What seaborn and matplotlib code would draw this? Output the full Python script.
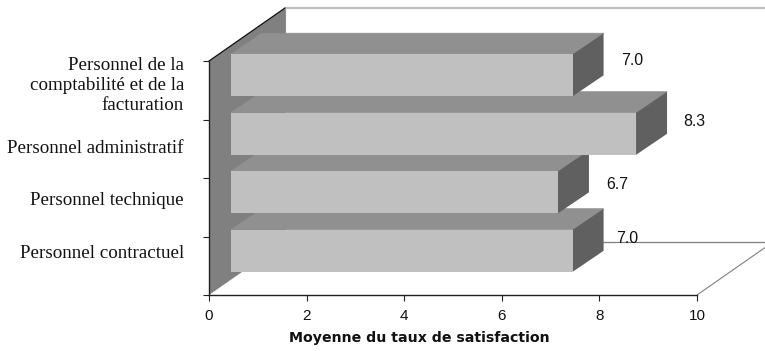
import matplotlib
matplotlib.use("Agg")
import matplotlib.pyplot as plt
import pandas as pd
import seaborn as sns
from matplotlib.patches import Polygon

categories = [
    "Personnel de la\ncomptabilité et de la\nfacturation",
    "Personnel administratif",
    "Personnel technique",
    "Personnel contractuel",
]
scores = [7.0, 8.3, 6.7, 7.0]
x_ticks = [0, 2, 4, 6, 8, 10]

sns.set_theme(style="white")
plt.rcParams["font.family"] = ["Liberation Sans", "DejaVu Sans"]

W, H, DPI = 765, 351, 100
AX_L, AX_R, AX_T, AX_B = 209, 697, 61, 295

fig = plt.figure(figsize=(W / DPI, H / DPI), dpi=DPI, facecolor="white")
ax = fig.add_axes([AX_L / W, 1 - AX_B / H, (AX_R - AX_L) / W, (AX_B - AX_T) / H])

table = pd.DataFrame({"categorie": categories, "score": scores})
sns.barplot(data=table, x="score", y="categorie", orient="h", color="#c0c0c0",
            saturation=1, width=0.72, linewidth=0, ax=ax, zorder=3)
ax.set_xlim(0, 10)
ax.set_ylim(3.5, -0.5)

# Oblique projection, expressed in data units
WALL_DX, WALL_DY = 76 / 48.8, -53 / 58.5
SHIFT_DX, SHIFT_DY = 22 / 48.8, -15 / 58.5
BAR_DX, BAR_DY = 31 / 48.8, -21 / 58.5

# Side wall, back wall edges and floor
faces = dict(clip_on=False, zorder=1)
ax.add_patch(Polygon([(0, 3.5), (0, -0.5), (WALL_DX, -0.5 + WALL_DY), (WALL_DX, 3.5 + WALL_DY)],
                     closed=True, facecolor="#808080", edgecolor="none", **faces))
ax.plot([0, WALL_DX], [-0.5, -0.5 + WALL_DY], color="#111111", lw=0.9, clip_on=False, zorder=2)
ax.plot([WALL_DX, WALL_DX], [-0.5 + WALL_DY, 3.5 + WALL_DY], color="#8c8c8c", lw=0.8,
        clip_on=False, zorder=1)
ax.plot([WALL_DX, 10 + WALL_DX], [-0.5 + WALL_DY] * 2, color="#c0c0c0", lw=1.6,
        clip_on=False, zorder=1)
ax.plot([WALL_DX, 10 + WALL_DX], [3.5 + WALL_DY] * 2, color="#808080", lw=0.9,
        clip_on=False, zorder=1)
ax.plot([10, 10 + WALL_DX], [3.5, 3.5 + WALL_DY], color="#808080", lw=0.8,
        clip_on=False, zorder=1)

# Extrude each bar; lower bars are painted first so upper ones overlap them
count = len(scores)
for i, bar in enumerate(ax.patches[:count]):
    bar.set_x(bar.get_x() + SHIFT_DX)
    bar.set_y(bar.get_y() + SHIFT_DY)
    z = 3 + (count - i)
    bar.set_zorder(z + 0.2)
    bar.set_clip_on(False)
    x0, x1 = bar.get_x(), bar.get_x() + bar.get_width()
    y0, y1 = bar.get_y(), bar.get_y() + bar.get_height()
    # A hairline edge closes the seam between the faces
    ax.add_patch(Polygon([(x0, y0), (x1, y0), (x1 + BAR_DX, y0 + BAR_DY), (x0 + BAR_DX, y0 + BAR_DY)],
                         closed=True, facecolor="#909090", edgecolor="#909090", linewidth=0.5,
                         clip_on=False, zorder=z))
    ax.add_patch(Polygon([(x1, y0), (x1 + BAR_DX, y0 + BAR_DY), (x1 + BAR_DX, y1 + BAR_DY), (x1, y1)],
                         closed=True, facecolor="#606060", edgecolor="none", clip_on=False, zorder=z + 0.1))

# Value labels sit just past the extruded ends
label_dx = [1.68, 1.64, 1.66, 1.56]
label_dy = [-0.51, -0.47, -0.39, -0.47]
for i, v in enumerate(scores):
    ax.text(v + label_dx[i], i + label_dy[i], f"{v:.1f}", ha="center", va="center",
            fontsize=11.4, color="#111111", zorder=10, clip_on=False)

# Axes
for side in ("top", "right"):
    ax.spines[side].set_visible(False)
for side in ("left", "bottom"):
    ax.spines[side].set_color("#222222")
    ax.spines[side].set_linewidth(1.0)
    ax.spines[side].set_zorder(8)

ax.set_xticks(x_ticks)
ax.set_xticklabels([str(t) for t in x_ticks], fontsize=11, color="#111111")
ax.set_yticks([-0.5, 0.5, 1.5, 2.5, 3.5])
ax.set_yticklabels([])
ax.tick_params(axis="both", which="major", left=True, bottom=True, length=4, width=0.8,
               color="#222222", pad=6)

label_y = [-0.14, 0.96, 1.85, 2.76]
ax.set_yticks(label_y, minor=True)
ax.set_yticklabels(categories, minor=True, fontsize=13.7, family="Liberation Serif",
                   color="#111111", ha="right", linespacing=1.22)
ax.tick_params(axis="y", which="minor", length=0, pad=18)

ax.set_ylabel("")
ax.set_xlabel("Moyenne du taux de satisfaction", fontsize=10.2, fontweight="bold",
              family="DejaVu Sans", color="#111111", labelpad=6)
ax.xaxis.label.set_x(0.43)

fig.savefig("out.png", dpi=DPI, facecolor="white")
